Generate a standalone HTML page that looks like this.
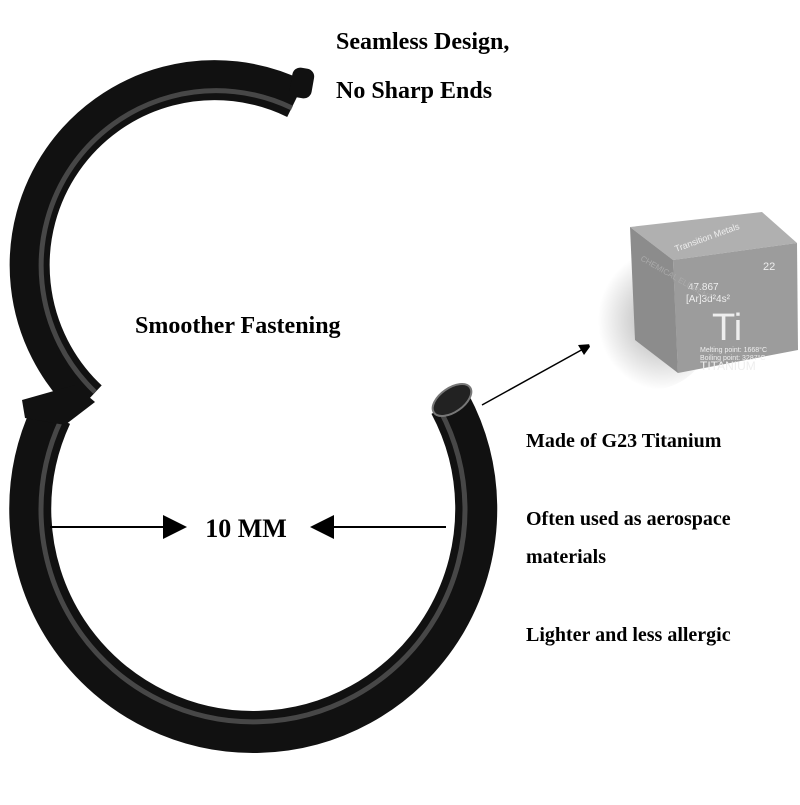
<!DOCTYPE html>
<html><head><style>
body{margin:0;background:#fff;width:800px;height:800px;overflow:hidden}
</style></head><body>
<svg width="800" height="800" viewBox="0 0 800 800" xmlns="http://www.w3.org/2000/svg">
<defs>
<radialGradient id="sh" cx="0.6" cy="0.5" r="0.5"><stop offset="0" stop-color="#aaa"/><stop offset="1" stop-color="#fff"/></radialGradient>
</defs>
<!-- lower ring -->
<path d="M51 415 A223 223 0 1 0 450 404" fill="none" stroke="#111" stroke-width="42"/>
<path d="M61 420 A212 212 0 1 0 440 410" fill="none" stroke="#555" stroke-width="5" opacity="0.8"/>
<ellipse cx="452" cy="400" rx="22" ry="12" transform="rotate(-35 452 400)" fill="#222" stroke="#777" stroke-width="2"/>
<!-- upper arc -->
<path d="M88 400 A185 185 0 0 1 296 99" fill="none" stroke="#111" stroke-width="40"/>
<path d="M95 392 A175 175 0 0 1 292 108" fill="none" stroke="#555" stroke-width="5" opacity="0.8"/>
<rect x="291" y="68" width="22" height="30" rx="8" fill="#111" transform="rotate(10 302 83)"/>
<!-- hinge -->
<polygon points="22,400 75,385 95,402 65,425 25,418" fill="#111"/>
<!-- arrows -->
<line x1="50" y1="527" x2="168" y2="527" stroke="#000" stroke-width="2"/>
<polygon points="163,515 187,527 163,539" fill="#000"/>
<line x1="330" y1="527" x2="446" y2="527" stroke="#000" stroke-width="2"/>
<polygon points="334,515 310,527 334,539" fill="#000"/>
<text x="246" y="537" font-family="Liberation Serif, serif" font-weight="bold" font-size="26" text-anchor="middle">10 MM</text>
<!-- pointer -->
<line x1="482" y1="405" x2="585" y2="348" stroke="#000" stroke-width="1.5"/>
<polygon points="592,344 578,345 584,355" fill="#000"/>
<!-- cube -->
<ellipse cx="650" cy="320" rx="65" ry="70" fill="url(#sh)"/>
<polygon points="630,227 762,212 797,243 673,260" fill="#b0b0b0"/>
<polygon points="630,227 673,260 678,373 635,340" fill="#8c8c8c"/>
<polygon points="673,260 797,243 798,350 678,373" fill="#9c9c9c"/>
<g font-family="Liberation Sans, sans-serif" fill="#eee">
<text x="676" y="252" font-size="9" transform="rotate(-20 676 252)">Transition Metals</text>
<text x="688" y="290" font-size="10">47.867</text>
<text x="686" y="302" font-size="10">[Ar]3d²4s²</text>
<text x="763" y="270" font-size="11">22</text>
<text x="712" y="340" font-size="38">Ti</text>
<text x="700" y="352" font-size="7">Melting point: 1668°C</text>
<text x="700" y="360" font-size="7">Boiling point: 3287°C</text>
<text x="700" y="370" font-size="12">TITANIUM</text>
<text x="640" y="260" font-size="8" fill="#aaa" transform="rotate(30 640 260)">CHEMICAL ELEMENT</text>
</g>
<!-- texts -->
<g font-family="Liberation Serif, serif" font-weight="bold" fill="#000">
<text x="336" y="49" font-size="24">Seamless Design,</text>
<text x="336" y="98" font-size="24">No Sharp Ends</text>
<text x="135" y="333" font-size="24">Smoother Fastening</text>
<text x="526" y="447" font-size="20">Made of G23 Titanium</text>
<text x="526" y="525" font-size="20">Often used as aerospace</text>
<text x="526" y="563" font-size="20">materials</text>
<text x="526" y="641" font-size="20">Lighter and less allergic</text>
</g>
</svg>
</body></html>
